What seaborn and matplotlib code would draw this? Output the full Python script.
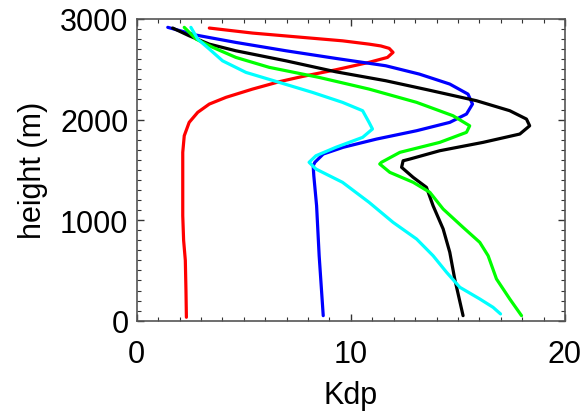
import matplotlib
matplotlib.use("Agg")
import matplotlib.pyplot as plt
import seaborn as sns
import pandas as pd
from matplotlib.ticker import MultipleLocator

red_x = [3.39, 5.41, 7.75, 9.61, 10.85, 11.40, 11.79, 11.97, 11.71, 10.85, 9.30, 7.75, 6.65, 5.41, 4.17, 3.39, 2.85, 2.45, 2.22, 2.15, 2.15, 2.19, 2.27, 2.30, 2.32]
red_y = [2910, 2860, 2817, 2783, 2750, 2732, 2708, 2668, 2618, 2569, 2495, 2429, 2376, 2303, 2221, 2154, 2072, 1972, 1839, 1674, 1044, 800, 600, 300, 34]

blue_x = [1.45, 2.77, 4.63, 6.97, 9.30, 11.63, 13.20, 14.62, 15.47, 15.68, 15.40, 14.62, 13.07, 11.20, 9.64, 8.71, 8.32, 8.24, 8.27, 8.40, 8.52, 8.71]
blue_y = [2917, 2840, 2767, 2684, 2608, 2535, 2452, 2353, 2253, 2154, 2055, 1972, 1889, 1806, 1724, 1657, 1575, 1541, 1441, 1143, 646, 50]

black_x = [1.68, 2.45, 3.39, 4.63, 6.97, 9.30, 11.63, 13.60, 15.87, 17.42, 18.20, 18.35, 17.89, 16.17, 14.15, 12.75, 12.44, 12.37, 12.91, 13.53, 13.84, 14.31, 14.62, 14.85, 15.24]
black_y = [2910, 2833, 2750, 2684, 2584, 2475, 2386, 2295, 2187, 2088, 2005, 1938, 1856, 1773, 1690, 1607, 1590, 1525, 1425, 1326, 1143, 912, 680, 415, 50]

green_x = [2.22, 2.77, 3.55, 4.63, 6.19, 8.52, 10.85, 13.07, 14.77, 15.55, 15.40, 14.15, 12.29, 11.43, 11.35, 11.82, 12.91, 13.69, 14.31, 15.24, 16.02, 16.41, 16.80, 17.42, 17.97]
green_y = [2917, 2800, 2718, 2618, 2519, 2419, 2303, 2171, 2038, 1938, 1873, 1773, 1674, 1575, 1558, 1475, 1376, 1276, 1110, 928, 779, 646, 415, 216, 50]

cyan_x = [2.53, 2.85, 3.39, 4.01, 5.10, 6.65, 8.21, 9.61, 10.55, 10.85, 11.01, 10.55, 9.30, 8.37, 8.05, 8.37, 9.61, 10.85, 11.97, 13.07, 13.84, 14.47, 15.09, 16.02, 16.64, 16.99]
cyan_y = [2917, 2800, 2701, 2584, 2469, 2370, 2270, 2171, 2088, 1972, 1906, 1823, 1724, 1640, 1575, 1508, 1376, 1177, 978, 812, 646, 481, 332, 216, 133, 67]

series = [
    ("red", red_x, red_y, "#ff0000"),
    ("blue", blue_x, blue_y, "#0000ff"),
    ("black", black_x, black_y, "#000000"),
    ("green", green_x, green_y, "#00ff00"),
    ("cyan", cyan_x, cyan_y, "#00ffff"),
]

sns.set_theme(style="white")
plt.rcParams['font.family'] = ['Liberation Sans', 'DejaVu Sans']

fig = plt.figure(figsize=(5.85, 4.14), dpi=100)
ax = fig.add_axes([0.2337, 0.223, 0.7321, 0.7287])

for name, xs, ys, col in series:
    df = pd.DataFrame({"Kdp": xs, "height": ys})
    sns.lineplot(data=df, x="Kdp", y="height", sort=False, estimator=None,
                 color=col, linewidth=2.3, ax=ax)

ax.set_xlim(0, 20)
ax.set_ylim(0, 3000)
ax.xaxis.set_major_locator(MultipleLocator(10))
ax.xaxis.set_minor_locator(MultipleLocator(1))
ax.yaxis.set_major_locator(MultipleLocator(1000))
ax.yaxis.set_minor_locator(MultipleLocator(100))
ax.tick_params(which="both", direction="in", top=True, right=True, bottom=True, left=True,
               colors="#333333", labelcolor="black", labelsize=22)
ax.tick_params(which="major", length=5, width=1)
ax.tick_params(which="minor", length=3, width=0.8)
ax.tick_params(axis="x", which="major", pad=13)
ax.tick_params(axis="y", which="major", pad=6)
for s in ax.spines.values():
    s.set_color("#555555")
    s.set_linewidth(1.2)
ax.set_xlabel("Kdp", fontsize=22, color="black", labelpad=8)
ax.set_ylabel("height (m)", fontsize=22, color="black", labelpad=9)

fig.savefig("out.png", dpi=100)
